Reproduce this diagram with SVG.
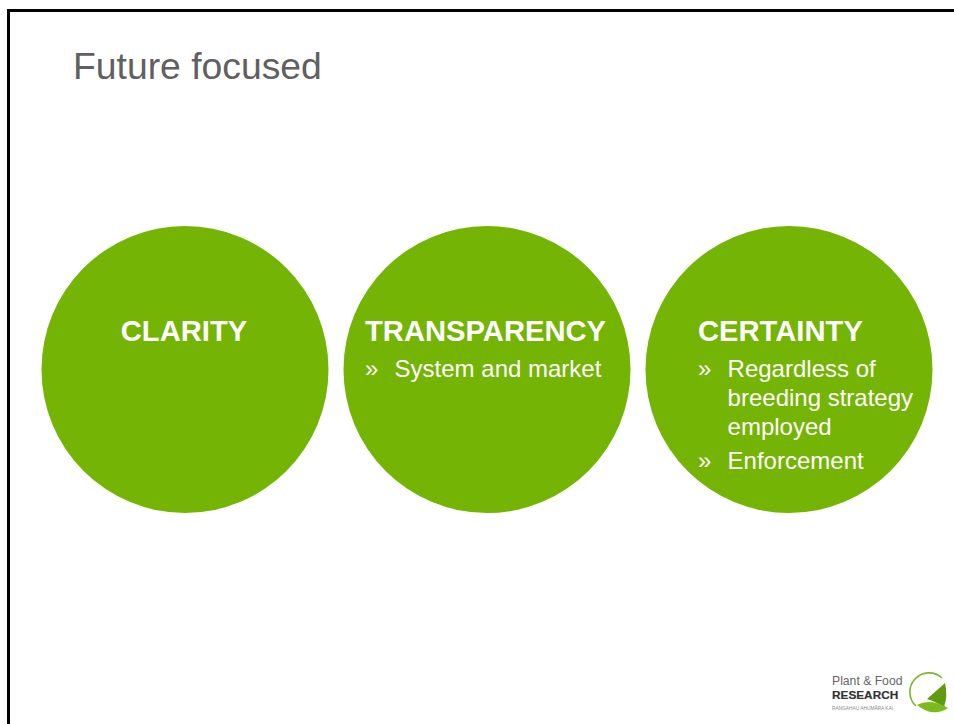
<svg xmlns="http://www.w3.org/2000/svg" width="954" height="724" viewBox="0 0 954 724">
<style>
text{font-family:"Liberation Sans",Arial,sans-serif}
.c{fill:#74b404}
.h{font-size:29.2px;font-weight:bold;fill:#fff}
.b{font-size:24px;fill:#fff}
</style>
<rect width="954" height="724" fill="#fff"/>
<path d="M8.5 724V10.5H954" fill="none" stroke="#000" stroke-width="3"/>
<text x="73" y="79" font-size="37.3" fill="#606060">Future focused</text>
<g id="clarity"><circle class="c" cx="185" cy="369.5" r="143.5"/><text class="h" x="184" y="341" text-anchor="middle">CLARITY</text></g>
<g id="transparency"><circle class="c" cx="487" cy="369.5" r="143.5"/><text class="h" x="365" y="341">TRANSPARENCY</text><text class="b" x="365" y="377">»</text><text class="b" x="394.6" y="377">System and market</text></g>
<g id="certainty"><circle class="c" cx="789" cy="369.5" r="143.5"/><text class="h" x="698" y="341">CERTAINTY</text><text class="b" x="698" y="377">»</text><text class="b" x="727.6" y="377">Regardless of</text><text class="b" x="727.6" y="406">breeding strategy</text><text class="b" x="727.6" y="435">employed</text><text class="b" x="698" y="469">»</text><text class="b" x="727.6" y="469">Enforcement</text></g>
<g id="logo">
<text x="832" y="685" font-size="12.2" fill="#666">Plant &amp; Food</text>
<text x="832" y="699" font-size="11.8" font-weight="bold" fill="#333" stroke="#333" stroke-width=".2">RESEARCH</text>
<text x="832" y="710" font-size="4.8" fill="#888">RANGAHAU AHUMĀRA KAI</text>
<path d="M942 678A18 18 0 1 0 916 706" fill="none" stroke="#7cb82a" stroke-width="1.6"/>
<path d="M927 699L945 683Q948 696 944 707Q934 701 927 699Z" fill="#5f9a10"/>
<path d="M917 705Q930 698 948 708Q933 718 917 705Z" fill="#7cbb1c"/>
</g>
</svg>
